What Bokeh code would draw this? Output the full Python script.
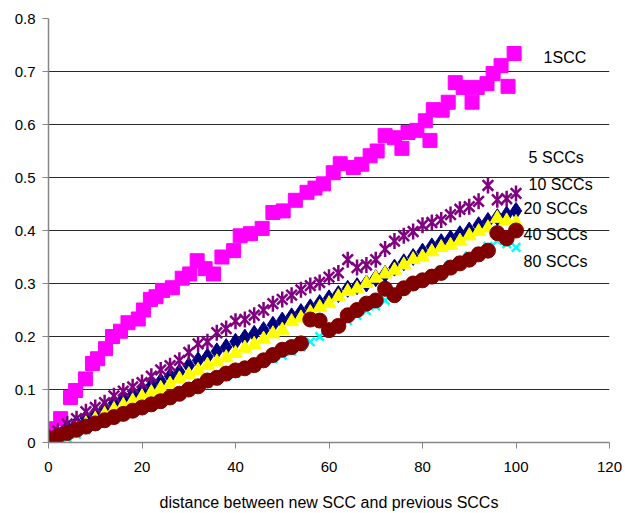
from bokeh.plotting import figure
from bokeh.models import Range1d, FixedTicker, Label
from bokeh.embed import file_html
from bokeh.resources import INLINE

# ---- data ----
# 1SCC series (its own distance samples)
x1 = [0.4, 2.6, 4.7, 5.8, 7.9, 9.4, 10.5, 12.2, 13.7, 15.4,
      17.0, 19.2, 20.3, 21.8, 23.0, 24.4, 26.5, 28.6, 30.2, 31.8,
      33.5, 35.3, 37.1, 39.6, 41.0, 43.2, 45.7, 48.0, 50.2, 52.8,
      55.3, 57.0, 58.8, 60.9, 62.4, 65.2, 67.0, 68.8, 70.3, 72.0,
      74.0, 75.6, 76.9, 78.8, 80.6, 81.6, 82.3, 84.2, 85.5, 87.0,
      88.7, 90.6, 91.7, 93.8, 95.1, 96.8, 98.3, 99.6]
scc1 = [0.026, 0.045, 0.085, 0.098, 0.12, 0.149, 0.158, 0.177, 0.2, 0.21,
        0.226, 0.233, 0.25, 0.27, 0.275, 0.287, 0.292, 0.31, 0.318, 0.343,
        0.328, 0.318, 0.35, 0.362, 0.39, 0.394, 0.404, 0.434, 0.437, 0.457,
        0.472, 0.48, 0.488, 0.509, 0.526, 0.519, 0.525, 0.541, 0.55, 0.579,
        0.575, 0.555, 0.585, 0.589, 0.607, 0.57, 0.628, 0.627, 0.642, 0.679,
        0.67, 0.642, 0.67, 0.677, 0.696, 0.711, 0.672, 0.734]
# other series
x = list(range(0, 101, 2))
scc5 = [0.005, 0.015, 0.027, 0.036, 0.046, 0.055, 0.064, 0.074, 0.083, 0.09,
        0.097, 0.107, 0.115, 0.125, 0.133, 0.145, 0.155, 0.162, 0.172, 0.18,
        0.19, 0.198, 0.205, 0.212, 0.222, 0.23, 0.238, 0.246, 0.255, 0.263,
        0.272, 0.28, 0.29, 0.295, 0.3, 0.31, 0.318, 0.33, 0.34, 0.35,
        0.36, 0.37, 0.378, 0.385, 0.393, 0.4, 0.41, 0.418, 0.425, 0.43,
        0.437]
scc10 = [0.01, 0.022, 0.035, 0.045, 0.058, 0.066, 0.075, 0.088, 0.097, 0.105,
         0.113, 0.125, 0.137, 0.145, 0.155, 0.17, 0.186, 0.19, 0.207, 0.215,
         0.229, 0.232, 0.24, 0.25, 0.262, 0.27, 0.278, 0.288, 0.296, 0.302,
         0.312, 0.32, 0.345, 0.33, 0.335, 0.345, 0.365, 0.38, 0.39, 0.398,
         0.41, 0.415, 0.42, 0.43, 0.44, 0.445, 0.455, 0.485, 0.458, 0.46,
         0.47]
scc20 = [-0.005, 0.006, 0.016, 0.025, 0.035, 0.044, 0.053, 0.062, 0.07, 0.078,
         0.086, 0.094, 0.102, 0.11, 0.12, 0.128, 0.136, 0.146, 0.152, 0.16,
         0.168, 0.178, 0.185, 0.195, 0.205, 0.212, 0.228, 0.235, 0.245, 0.255,
         0.262, 0.275, 0.285, 0.29, 0.3, 0.31, 0.318, 0.325, 0.335, 0.345,
         0.35, 0.36, 0.368, 0.372, 0.38, 0.39, 0.398, 0.405, 0.423, 0.418,
         0.415]
scc40 = [-0.008, 0.0, 0.008, 0.016, 0.024, 0.031, 0.038, 0.045, 0.052, 0.058,
         0.064, 0.07, 0.077, 0.084, 0.09, 0.097, 0.104, 0.111, 0.118, 0.125,
         0.13, 0.138, 0.145, 0.152, 0.158, 0.165, 0.172, 0.18, 0.19, 0.2,
         0.21, 0.22, 0.23, 0.24, 0.249, 0.258, 0.268, 0.278, 0.287, 0.296,
         0.305, 0.315, 0.325, 0.335, 0.343, 0.352, 0.36, 0.37, 0.381, 0.375,
         0.368]
scc80 = [0.008, 0.012, 0.018, 0.024, 0.03, 0.036, 0.042, 0.048, 0.054, 0.06,
         0.066, 0.072, 0.078, 0.085, 0.092, 0.1, 0.106, 0.117, 0.122, 0.13,
         0.136, 0.14, 0.146, 0.155, 0.165, 0.175, 0.18, 0.187, 0.232, 0.23,
         0.212, 0.22, 0.24, 0.25, 0.262, 0.268, 0.29, 0.278, 0.291, 0.3,
         0.306, 0.313, 0.32, 0.33, 0.338, 0.345, 0.355, 0.362, 0.395, 0.385,
         0.4]
series_labels = ["1SCC", "5 SCCs", "10 SCCs", "20 SCCs", "40 SCCs", "80 SCCs"]
x_ticks = [0, 20, 40, 60, 80, 100, 120]
y_ticks = [0, 0.1, 0.2, 0.3, 0.4, 0.5, 0.6, 0.7, 0.8]
y_tick_labels = ["0", "0.1", "0.2", "0.3", "0.4", "0.5", "0.6", "0.7", "0.8"]
x_title = "distance between new SCC and previous SCCs"

FONT = "Liberation Sans"

p = figure(width=625, height=513, output_backend="svg", toolbar_location=None,
           x_range=Range1d(0, 120), y_range=Range1d(0, 0.8),
           min_border_left=48, min_border_top=18, min_border_right=16,
           min_border_bottom=71)
p.outline_line_color = None
p.background_fill_color = "white"
p.xgrid.visible = False
p.ygrid.grid_line_color = "#2a2a2a"
p.ygrid.grid_line_width = 1

for ax in (p.xaxis[0], p.yaxis[0]):
    ax.axis_line_color = "#868686"
    ax.axis_line_width = 1.5
    ax.major_tick_line_color = "#868686"
    ax.major_tick_out = 6
    ax.major_tick_in = 0
    ax.minor_tick_out = 0
    ax.minor_tick_in = 0
    ax.major_label_text_font = FONT
    ax.major_label_text_font_size = "15px"
    ax.major_label_text_color = "black"

p.xaxis.ticker = FixedTicker(ticks=x_ticks)
p.yaxis.ticker = FixedTicker(ticks=y_ticks)
p.ygrid.ticker = FixedTicker(ticks=y_ticks)
p.yaxis.major_label_overrides = {t: s for t, s in zip(y_ticks, y_tick_labels)}
p.xaxis.major_label_standoff = 13
p.yaxis.major_label_standoff = 7
p.xaxis.axis_label = x_title
p.xaxis.axis_label_text_font = FONT
p.xaxis.axis_label_text_font_size = "16px"
p.xaxis.axis_label_text_font_style = "normal"
p.xaxis.axis_label_text_color = "black"
p.xaxis.axis_label_standoff = 19

p.scatter(x1, scc1, marker="square", size=14, fill_color="#FF00FF", line_color="#FF00FF")
p.scatter(x, scc5, marker="diamond", size=17, fill_color="#000080", line_color="#000080")
# Excel-style star: an X plus a vertical bar
p.scatter(x, scc10, marker="x", size=15, line_color="#800080", line_width=2.5)
p.scatter(x, scc10, marker="dash", angle=1.5708, size=16, line_color="#800080", line_width=2.5)
p.scatter(x, scc20, marker="triangle", size=14, fill_color="#FFFF00", line_color="#FFFF00")
p.scatter(x, scc40, marker="x", size=12, line_color="#00FFFF", line_width=2.5)
p.scatter(x, scc80, marker="circle", size=15, fill_color="#800000", line_color="#800000")

label_pos = [(105.9, 0.7255), (102.7, 0.537), (102.7, 0.487),
             (101.6, 0.4406), (101.6, 0.3925), (101.6, 0.3415)]
for (lx, ly), txt in zip(label_pos, series_labels):
    p.add_layout(Label(x=lx, y=ly, text=txt, text_font=FONT,
                       text_font_size="16px", text_baseline="middle",
                       text_align="left", text_color="black"))

open("out.html", "w").write(file_html(p, INLINE))
